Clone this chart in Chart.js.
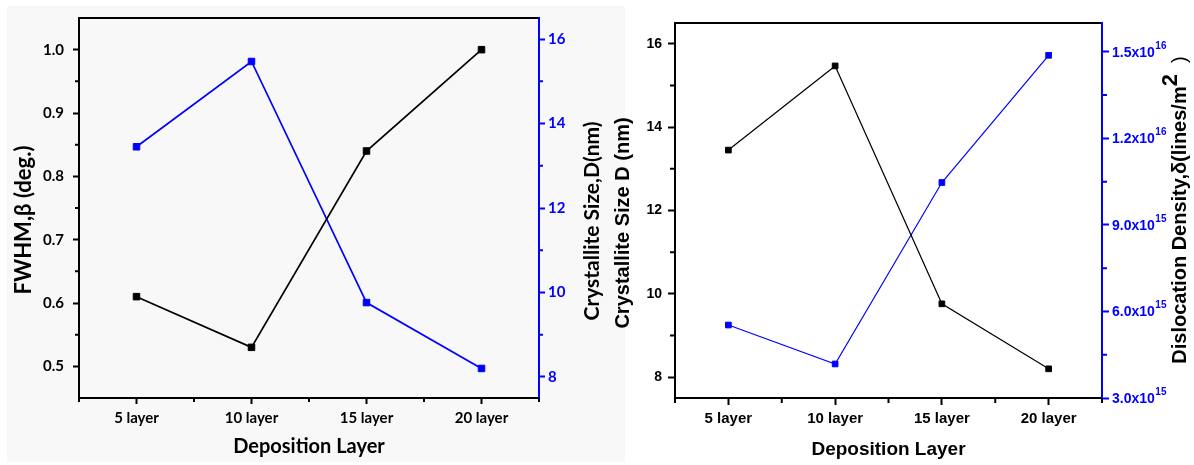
<!DOCTYPE html>
<html>
<head>
<meta charset="utf-8">
<script src="https://cdn.jsdelivr.net/npm/chart.js@4.4.1/dist/chart.umd.min.js"></script>
<style>
html,body{margin:0;padding:0;background:#ffffff;width:1194px;height:465px;overflow:hidden;}
#bg{position:absolute;left:7px;top:6px;width:618px;height:456px;background:#f8f8f8;}
#c1{position:absolute;left:0;top:0;}
#c2{position:absolute;left:600px;top:0;}
</style>
</head>
<body>
<div id="bg"></div>
<canvas id="c1" width="625" height="465"></canvas>
<canvas id="c2" width="594" height="465"></canvas>
<script>
// ---------- data ----------
const layers = ['5 layer', '10 layer', '15 layer', '20 layer'];
const fwhm = [0.61, 0.53, 0.84, 1.00];
const crystalliteSize = [13.45, 15.47, 9.76, 8.20];
const dislocationDensity = [5.53e15, 4.18e15, 1.047e16, 1.488e16];

// ---------- tick labels ----------
const fwhmMajorTicks = [0.5, 0.6, 0.7, 0.8, 0.9, 1.0];
const fwhmMinorTicks = [0.55, 0.65, 0.75, 0.85, 0.95];
const sizeMajorTicks = [8, 10, 12, 14, 16];
const sizeMinorTicks = [9, 11, 13, 15];
const densityMajorTicks = [3e15, 6e15, 9e15, 1.2e16, 1.5e16];
const densityMinorTicks = [4.5e15, 7.5e15, 1.05e16, 1.35e16];
const layerMajorTicks = layers.map((_, i) => i);
const layerMinorTicks = [-0.5, 0.5, 1.5, 2.5, 3.5];

const BLACK = '#000000', BLUE = '#0000ff';
const LATO = 'Lato', ARIAL = '"Liberation Sans"';

function setTicks(values) { return s => { s.ticks = values.map(v => ({ value: v })); }; }

function drawTitle(ctx, t, chart) {
  const x = typeof t.x === 'function' ? t.x(chart) : t.x;
  ctx.save();
  ctx.translate(x, t.y);
  if (t.rot) ctx.rotate(t.rot);
  let total = 0;
  const widths = t.segs.map(s => { ctx.font = s.font; const w = ctx.measureText(s.text).width; total += w; return w; });
  let cx = -total / 2;
  ctx.textBaseline = t.baseline || 'middle';
  ctx.textAlign = 'left';
  t.segs.forEach((s, i) => {
    ctx.font = s.font; ctx.fillStyle = s.color || BLACK;
    ctx.fillText(s.text, cx, s.dy || 0);
    cx += widths[i];
  });
  ctx.restore();
}

function decorPlugin(spec) {
  return {
    id: 'decor',
    afterDraw(chart) {
      const ctx = chart.ctx;
      ctx.save();
      spec.minor.forEach(m => {
        const s = chart.scales[m.scale];
        ctx.strokeStyle = m.color; ctx.lineWidth = m.width;
        ctx.beginPath();
        m.values.forEach(v => {
          const p = s.getPixelForValue(v);
          if (s.position === 'left') { ctx.moveTo(s.right, p); ctx.lineTo(s.right - m.len, p); }
          else if (s.position === 'right') { ctx.moveTo(s.left, p); ctx.lineTo(s.left + m.len, p); }
          else { ctx.moveTo(p, s.top); ctx.lineTo(p, s.top + m.len); }
        });
        ctx.stroke();
      });
      if (spec.extra) spec.extra(chart, ctx);
      spec.titles.forEach(t => drawTitle(ctx, t, chart));
      ctx.restore();
    }
  };
}

function xScales(fontFamily, fontSize, tickLen, height) {
  return {
    x: {
      type: 'linear', position: 'bottom', min: -0.5, max: 3.5,
      afterBuildTicks: setTicks(layerMajorTicks),
      afterFit: s => { s.height = height; },
      ticks: { autoSkip: false, maxRotation: 0, padding: 5, color: BLACK,
               font: { family: fontFamily, size: fontSize, weight: 'bold' },
               callback: v => layers[Math.round(v)] },
      grid: { drawOnChartArea: false, drawTicks: true, tickLength: tickLen, tickColor: BLACK, tickWidth: 2 },
      border: { color: BLACK, width: 2 }
    },
    xTop: {
      type: 'linear', position: 'top', min: -0.5, max: 3.5,
      afterFit: s => { s.height = 0; },
      ticks: { display: false },
      grid: { drawOnChartArea: false, drawTicks: false },
      border: { color: BLACK, width: 2 }
    }
  };
}

function yScale(o) {
  return {
    type: 'linear', position: o.position, min: o.min, max: o.max,
    afterBuildTicks: setTicks(o.major),
    afterFit: s => { s.width = o.width; },
    ticks: { autoSkip: false, padding: o.padding, color: o.color,
             font: { family: o.family, size: o.size, weight: 'bold' },
             callback: o.fmt },
    grid: { drawOnChartArea: false, drawTicks: true, tickLength: o.tickLen, tickColor: o.color, tickWidth: 2 },
    border: { color: o.color, width: 2 }
  };
}

function lineDataset(values, axis, color, lw, radius) {
  return {
    data: values.map((v, i) => ({ x: i, y: v })),
    xAxisID: 'x', yAxisID: axis,
    borderColor: color, backgroundColor: color, borderWidth: lw,
    pointStyle: 'rect', pointRadius: radius, pointBorderWidth: 1,
    pointBackgroundColor: color, pointBorderColor: color,
    tension: 0, clip: false
  };
}

const common = { responsive: false, animation: false, devicePixelRatio: 1, events: [],
                 plugins: { legend: { display: false }, tooltip: { enabled: false } } };

// ---------- left chart ----------
new Chart(document.getElementById('c1'), {
  type: 'line',
  data: { datasets: [
    lineDataset(fwhm, 'y', BLACK, 1.7, 4.6),
    lineDataset(crystalliteSize, 'y2', BLUE, 1.7, 4.6)
  ] },
  options: Object.assign({}, common, {
    layout: { padding: { top: 14, left: 0, right: 0, bottom: 0 } },
    scales: Object.assign(xScales(LATO, 15, 6, 67), {
      y: yScale({ position: 'left', min: 0.45, max: 1.05, major: fwhmMajorTicks, width: 79, padding: 9,
                  color: BLACK, family: LATO, size: 15, tickLen: 6, fmt: v => v.toFixed(1) }),
      y2: yScale({ position: 'right', min: 7.5, max: 16.5, major: sizeMajorTicks, width: 86, padding: 3,
                   color: BLUE, family: LATO, size: 15, tickLen: 6, fmt: v => String(v) })
    })
  }),
  plugins: [decorPlugin({
    minor: [
      { scale: 'y', values: fwhmMinorTicks, len: 4, color: BLACK, width: 2 },
      { scale: 'y2', values: sizeMinorTicks, len: 4, color: BLUE, width: 2 },
      { scale: 'x', values: layerMinorTicks, len: 4, color: BLACK, width: 2 }
    ],
    titles: [
      { x: 24, y: 220, rot: -Math.PI / 2, segs: [{ text: 'FWHM,β (deg.)', font: 'bold 22px Lato' }] },
      { x: 592, y: 221, rot: -Math.PI / 2, segs: [{ text: 'Crystallite Size,D(nm)', font: 'bold 21px Lato' }] },
      { x: c => (c.chartArea.left + c.chartArea.right) / 2, y: 447,
        segs: [{ text: 'Deposition Layer', font: 'bold 20px Lato' }] }
    ]
  })]
});

// ---------- right chart ----------
new Chart(document.getElementById('c2'), {
  type: 'line',
  data: { datasets: [
    lineDataset(crystalliteSize, 'y', BLACK, 1.2, 4),
    lineDataset(dislocationDensity, 'y2', BLUE, 1.2, 4)
  ] },
  options: Object.assign({}, common, {
    layout: { padding: { top: 23, left: 0, right: 0, bottom: 0 } },
    scales: Object.assign(xScales(ARIAL, 15, 7, 67), {
      y: yScale({ position: 'left', min: 7.5, max: 16.5, major: sizeMajorTicks, width: 75, padding: 6,
                  color: BLACK, family: ARIAL, size: 14, tickLen: 7, fmt: v => String(v) }),
      y2: yScale({ position: 'right', min: 3e15, max: 1.6e16, major: densityMajorTicks, width: 92, padding: 4,
                   color: BLUE, family: ARIAL, size: 14, tickLen: 7, fmt: () => '' })
    })
  }),
  plugins: [decorPlugin({
    minor: [
      { scale: 'y', values: sizeMinorTicks, len: 5, color: BLACK, width: 2 },
      { scale: 'y2', values: densityMinorTicks, len: 5, color: BLUE, width: 2 },
      { scale: 'x', values: layerMinorTicks, len: 5, color: BLACK, width: 2 }
    ],
    extra: (chart, ctx) => {
      const s = chart.scales.y2;
      densityMajorTicks.forEach(v => {
        const y = s.getPixelForValue(v);
        const e = Math.floor(Math.log10(v) + 1e-9);
        const m = (v / Math.pow(10, e)).toFixed(1);
        const base = m + 'x10';
        ctx.fillStyle = BLUE; ctx.textAlign = 'left'; ctx.textBaseline = 'middle';
        ctx.font = 'bold 14px "Liberation Sans"';
        ctx.fillText(base, s.left + 10, y + 1);
        const w = ctx.measureText(base).width;
        ctx.font = 'bold 10px "Liberation Sans"';
        ctx.fillText(String(e), s.left + 10 + w + 0.5, y - 6);
      });
    },
    titles: [
      { x: 23, y: 223, rot: -Math.PI / 2, segs: [{ text: 'Crystallite Size D (nm)', font: 'bold 20px "Liberation Sans"' }] },
      { x: 586, y: 210, rot: -Math.PI / 2, baseline: 'alphabetic', segs: [
        { text: 'Dislocation Density,δ(lines/m', font: 'bold 20px "Liberation Sans"' },
        { text: '2', font: 'bold 22px "Liberation Sans"', dy: -9 },
        { text: '  )', font: '20px "Liberation Sans"' }
      ] },
      { x: c => (c.chartArea.left + c.chartArea.right) / 2, y: 450,
        segs: [{ text: 'Deposition Layer', font: 'bold 19px "Liberation Sans"' }] }
    ]
  })]
});
</script>
</body>
</html>
